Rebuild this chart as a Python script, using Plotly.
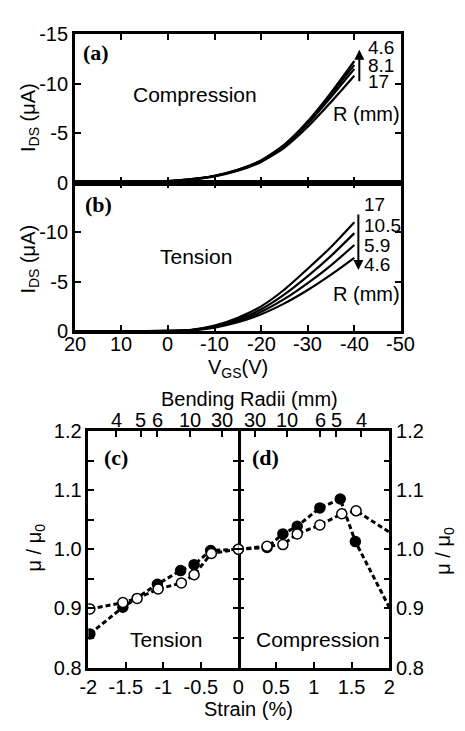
import plotly.graph_objects as go

# ---------------- data ----------------
# Transfer curves, gate voltage sweep (V)
vgs = [20, 10, 5, 0, -5, -10, -15, -20, -25, -30, -35, -40]
vgs_ticks = [20, 10, 0, -10, -20, -30, -40, -50]

# (a) compression, I_DS in uA for bending radii (mm)
comp_radii = [4.6, 5.9, 8.1, 17]
comp_ids = [
    [0, -0.02, -0.05, -0.15, -0.35, -0.7, -1.3, -2.25, -3.85, -6.2, -9.1, -12.3],
    [0, -0.02, -0.05, -0.15, -0.35, -0.7, -1.3, -2.25, -3.8, -6.1, -8.9, -11.9],
    [0, -0.02, -0.05, -0.14, -0.33, -0.66, -1.25, -2.2, -3.7, -5.95, -8.65, -11.5],
    [0, -0.02, -0.05, -0.13, -0.32, -0.63, -1.2, -2.1, -3.55, -5.65, -8.15, -10.8],
]

# (b) tension
tens_radii = [17, 10.5, 5.9, 4.6]
tens_ids = [
    [0, 0, 0, -0.03, -0.13, -0.55, -1.35, -2.5, -4.2, -6.3, -8.5, -11.0],
    [0, 0, 0, -0.02, -0.11, -0.48, -1.2, -2.2, -3.7, -5.55, -7.6, -9.9],
    [0, 0, 0, -0.01, -0.09, -0.42, -1.05, -1.95, -3.25, -4.85, -6.65, -8.7],
    [0, 0, 0, 0, -0.07, -0.35, -0.9, -1.7, -2.8, -4.15, -5.7, -7.4],
]

# (c) tension: normalized mobility vs strain (%)
c_filled_strain = [-1.98, -1.54, -1.08, -0.77, -0.59, -0.37, 0]
c_filled_mu = [0.857, 0.902, 0.941, 0.964, 0.974, 0.998, 1.0]
c_open_strain = [-1.98, -1.54, -1.35, -1.07, -0.76, -0.59, -0.36, 0]
c_open_mu = [0.899, 0.910, 0.917, 0.933, 0.943, 0.957, 0.993, 1.0]

# (d) compression
d_filled_strain = [0, 0.38, 0.59, 0.78, 1.08, 1.35, 1.55, 2.1]
d_filled_mu = [1.0, 1.003, 1.026, 1.039, 1.070, 1.085, 1.013, 0.877]
d_open_strain = [0, 0.38, 0.59, 0.78, 1.08, 1.37, 1.56, 2.1]
d_open_mu = [1.0, 1.005, 1.008, 1.026, 1.041, 1.060, 1.065, 1.021]

# Bending radii shown on the top axis; strain (%) = K / R
radius_ticks = [4, 5, 6, 10, 30]
STRAIN_K = 6.5

W, H = 465, 731
FONT = "Liberation Sans, Arial, sans-serif"
SERIF = "Liberation Serif, Times New Roman, serif"
FS = 20


def px(x, y):
    return x / W, 1 - y / H


fig = go.Figure()

for ids in comp_ids:
    fig.add_trace(go.Scatter(x=vgs, y=ids, mode="lines", xaxis="x", yaxis="y",
                             line=dict(color="black", width=2.2, shape="spline", smoothing=0.6),
                             showlegend=False))
for ids in tens_ids:
    fig.add_trace(go.Scatter(x=vgs, y=ids, mode="lines", xaxis="x2", yaxis="y2",
                             line=dict(color="black", width=2.2, shape="spline", smoothing=0.6),
                             showlegend=False))

dash = "5px,3px"


def mob_trace(xs, ys, filled, xa, ya):
    return go.Scatter(
        x=xs, y=ys, mode="lines+markers", xaxis=xa, yaxis=ya, showlegend=False,
        line=dict(color="black", width=3, dash=dash),
        marker=dict(size=10, symbol="circle",
                    color="black" if filled else "white",
                    line=dict(color="black", width=1.5)),
    )


fig.add_trace(mob_trace(c_filled_strain, c_filled_mu, True, "x3", "y3"))
fig.add_trace(mob_trace(c_open_strain, c_open_mu, False, "x3", "y3"))
fig.add_trace(mob_trace(d_filled_strain, d_filled_mu, True, "x4", "y4"))
fig.add_trace(mob_trace(d_open_strain, d_open_mu, False, "x4", "y4"))

# empty traces so the extra tick-only axes get their own subplots
fig.add_trace(go.Scatter(x=[], y=[], xaxis="x5", yaxis="y3", showlegend=False))
fig.add_trace(go.Scatter(x=[], y=[], xaxis="x6", yaxis="y4", showlegend=False))
fig.add_trace(go.Scatter(x=[], y=[], xaxis="x4", yaxis="y5", showlegend=False))

common = dict(showline=True, linewidth=2.5, linecolor="black", ticks="inside",
              ticklen=6, tickwidth=2, tickcolor="black", showgrid=False, zeroline=False,
              tickfont=dict(family=FONT, size=FS, color="black"))

xa_dom = [68 / W, 405 / W]
c_dom = [82 / W, 237 / W]
d_dom = [237 / W, 393 / W]
cd_ydom = [1 - 677 / H, 1 - 433 / H]

mu_ticks = [round(0.8 + 0.05 * i, 2) for i in range(9)]
mu_text = [f"{v:.1f}" if i % 2 == 0 else "" for i, v in enumerate(mu_ticks)]
radius_strain = [STRAIN_K / r for r in radius_ticks]

fig.update_layout(
    width=W, height=H, margin=dict(l=0, r=0, t=0, b=0),
    paper_bgcolor="white", plot_bgcolor="white",
    xaxis=dict(**common, domain=xa_dom, anchor="y", range=[20, -50], dtick=10,
               mirror="ticks", showticklabels=False),
    yaxis=dict(**common, domain=[1 - 177 / H, 1 - 24 / H], anchor="x", range=[0, -15],
               tickvals=[0, -5, -10, -15], ticktext=["0", "-5", "-10", "-15"], mirror="ticks"),
    xaxis2=dict(**common, domain=xa_dom, anchor="y2", range=[20, -50],
                tickvals=vgs_ticks, showticklabels=False, mirror="ticks"),
    yaxis2=dict(**common, domain=[1 - 330 / H, 1 - 177 / H], anchor="x2", range=[0, -15],
                tickvals=[0, -5, -10], ticktext=["0", "-5", "-10"], mirror="ticks"),
    xaxis3=dict(**common, domain=c_dom, anchor="y3", range=[-2, 0],
                tickvals=[-2, -1.5, -1, -0.5, 0], ticktext=["-2", "-1.5", "-1", "-0.5", "0"],
                mirror=True),
    yaxis3=dict(**common, domain=cd_ydom, anchor="x3", range=[0.8, 1.2],
                tickvals=mu_ticks, ticktext=mu_text, mirror="ticks"),
    xaxis4=dict(**common, domain=d_dom, anchor="y4", range=[0, 2],
                tickvals=[0.5, 1, 1.5, 2], ticktext=["0.5", "1", "1.5", "2"], mirror=True),
    yaxis4=dict(**common, domain=cd_ydom, anchor="x4", range=[0.8, 1.2], side="right",
                tickvals=mu_ticks, ticktext=mu_text, mirror=False),
    # ticks on the left edge of (d), no line (the line comes from panel c)
    yaxis5=dict(**{**common, "showline": False}, overlaying="y4", anchor="x4", side="left",
                range=[0.8, 1.2], tickvals=mu_ticks, showticklabels=False),
    xaxis5=dict(**common, overlaying="x3", anchor="y3", side="top", range=[-2, 0],
                tickvals=[-s for s in radius_strain], showticklabels=False),
    xaxis6=dict(**common, overlaying="x4", anchor="y4", side="top", range=[0, 2],
                tickvals=radius_strain, showticklabels=False),
)

anns = []


def text(x, y, s, size=FS, angle=0, family=FONT, xanchor="center", bold=False):
    xp, yp = px(x, y)
    if bold:
        s = f"<b>{s}</b>"
    anns.append(dict(x=xp, y=yp, xref="paper", yref="paper", text=s, showarrow=False,
                     textangle=angle, xanchor=xanchor, yanchor="middle",
                     font=dict(family=family, size=size, color="black")))


# gate-voltage tick labels under panel (b)
_, vg_y = px(0, 343)
for v in vgs_ticks:
    anns.append(dict(x=v, y=vg_y, xref="x2", yref="paper", text=str(v), showarrow=False,
                     yanchor="middle", font=dict(family=FONT, size=FS, color="black")))

# radius labels on the top axis of (c) and (d)
_, top_y = px(0, 422)
for r, s in zip(radius_ticks, radius_strain):
    for xr, xv in (("x3", -s), ("x4", s)):
        anns.append(dict(x=xv, y=top_y, xref=xr, yref="paper", text=str(r),
                         showarrow=False, yanchor="middle",
                         font=dict(family=FONT, size=FS, color="black")))

# panel labels
text(90, 43, "(a)", size=22, family=SERIF, bold=True)
text(92, 200, "(b)", size=22, family=SERIF, bold=True)
text(111, 460, "(c)", size=22, family=SERIF, bold=True)
text(265, 460, "(d)", size=22, family=SERIF, bold=True)

text(192, 86, "Compression", size=21)
text(193, 253, "Tension", size=21)
text(162, 648, "Tension", size=21)
text(319, 648, "Compression", size=21)

# radius labels next to the arrows
for y, r in zip([38, 56, 73], [4.6, 8.1, 17]):
    text(369, y, f"{r:g}", size=19, xanchor="left")
text(333, 106, "R (mm)", xanchor="left")
for y, r in zip([200, 221, 242, 261], tens_radii):
    text(365, y, f"{r:g}", size=19, xanchor="left")
text(333, 292, "R (mm)", xanchor="left")

# axis titles
text(237, 369, "V<sub>GS</sub>(V)")
text(21, 110, "I<sub>DS</sub> (μA)", angle=-90)
text(21, 256, "I<sub>DS</sub> (μA)", angle=-90)
text(249, 400, "Bending Radii (mm)")
text(247, 720, "Strain (%)")
text(27, 553, "μ / μ<sub>0</sub>", angle=-90)
text(450, 556, "μ / μ<sub>0</sub>", angle=-90)

# arrows showing the order of radii
for (x0, y0, y1) in [(362, 73, 40), (361, 210, 267)]:
    xp, yp = px(x0, y1)
    anns.append(dict(x=xp, y=yp, xref="paper", yref="paper", ax=0, ay=y0 - y1,
                     axref="pixel", ayref="pixel", text="", showarrow=True,
                     arrowhead=2, arrowsize=1, arrowwidth=2, arrowcolor="black"))

fig.update_layout(annotations=anns)
fig.write_html("out.html")
